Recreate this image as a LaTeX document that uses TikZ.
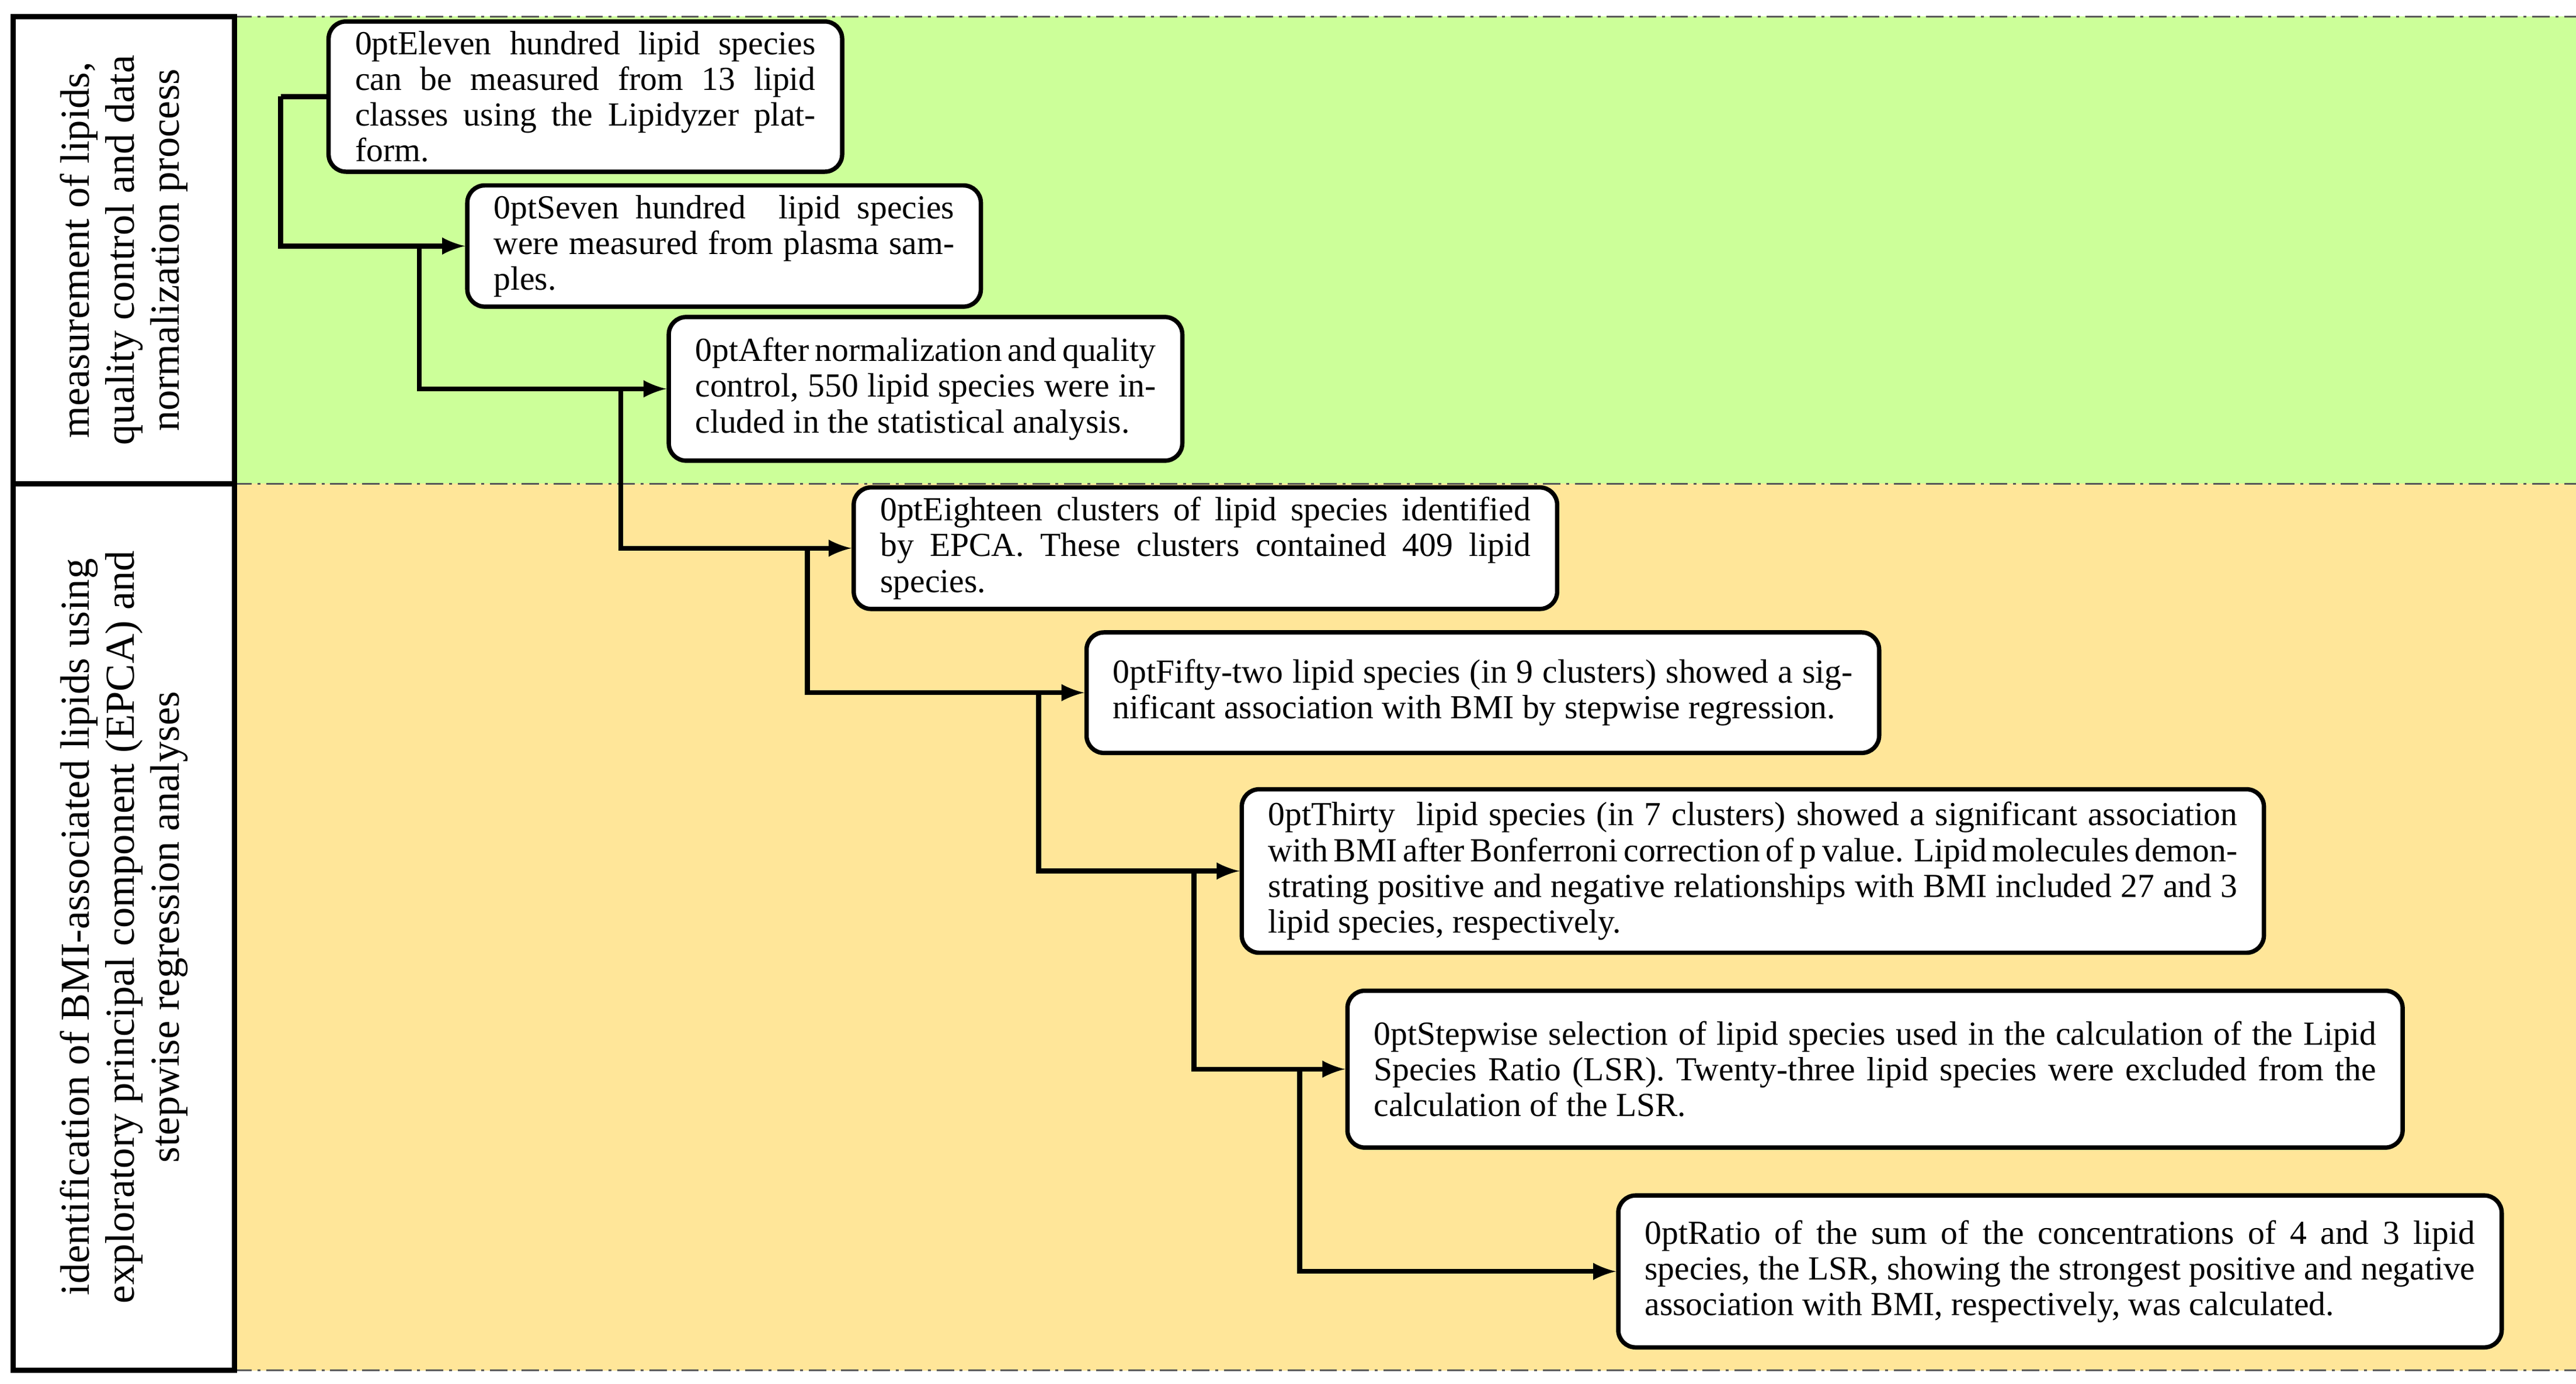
\documentclass[tikz,border=0pt]{standalone}
\usepackage{fontspec}
\setmainfont{Liberation Serif}
\begin{document}
\begin{tikzpicture}[x=0.02cm,y=-0.02cm,
 box/.style={draw=black,line width=1.5pt,rounded corners=6pt,fill=white,align=justify,font=\fontsize{11.6}{12.3}\selectfont\hyphenpenalty=10000\exhyphenpenalty=10000,inner xsep=0pt},
 conn/.style={line width=1.7pt,-latex},
 side/.style={draw=black,line width=1.8pt,fill=white},
 bandline/.style={dash pattern=on 6pt off 2pt on 1pt off 2pt,line width=0.6pt,gray!70!black}]
\useasboundingbox (0,0) rectangle (1560,838);
\fill[fill={rgb,255:red,204;green,255;blue,153}] (142,10) rectangle (1560,293);
\fill[fill={rgb,255:red,255;green,230;blue,153}] (142,293) rectangle (1560,830);
\draw[bandline] (142,10) -- (1560,10);
\draw[bandline] (142,293) -- (1560,293);
\draw[bandline] (142,830) -- (1560,830);
\node[side,minimum width=134*0.02cm,minimum height=283*0.02cm] (s1) at (75,151.5) {};
\node[side,minimum width=134*0.02cm,minimum height=537*0.02cm] (s2) at (75,561.5) {};
\node[rotate=90,align=center,font=\fontsize{14.2}{15.5}\selectfont] (t1) at (75,151.5) {measurement of lipids,\\quality control and data\\normalization process};
\node[rotate=90,align=center,font=\fontsize{14.2}{15.5}\selectfont] (t2) at (75,561.5) {identification of BMI-associated lipids using\\exploratory principal component (EPCA) and\\stepwise regression analyses};
\node[box,minimum width=311*0.02cm,minimum height=89*0.02cm,text width=5.58cm] (b1) at (354.5,58.5) {Eleven hundred lipid species can be measured from 13 lipid classes using the Lipidyzer platform.};
\node[box,minimum width=311*0.02cm,minimum height=66*0.02cm,text width=5.58cm] (b2) at (438.5,149) {Seven hundred\ \ lipid species were measured from plasma samples.};
\node[box,minimum width=311*0.02cm,minimum height=87*0.02cm,text width=5.58cm] (b3) at (560.5,235.5) {After normalization and quality control, 550 lipid species were included in the statistical analysis.};
\node[box,minimum width=426*0.02cm,minimum height=70*0.02cm,text width=7.88cm] (b4) at (730,332) {Eighteen clusters of lipid species identified by EPCA. These clusters contained 409 lipid species.};
\node[box,minimum width=480*0.02cm,minimum height=73*0.02cm,text width=8.96cm] (b5) at (898,419.5) {Fifty-two lipid species (in 9 clusters) showed a significant association with BMI by stepwise regression.};
\node[box,minimum width=619*0.02cm,minimum height=99*0.02cm,text width=11.74cm] (b6) at (1061.5,527.5) {Thirty\ \ lipid species (in 7 clusters) showed a significant association with BMI after Bonferroni correction of p value. Lipid molecules demonstrating positive and negative relationships with BMI included 27 and 3 lipid species, respectively.};
\node[box,minimum width=639*0.02cm,minimum height=95*0.02cm,text width=12.14cm] (b7) at (1135.5,647.5) {Stepwise selection of lipid species used in the calculation of the Lipid Species Ratio (LSR). Twenty-three lipid species were excluded from the calculation of the LSR.};
\node[box,minimum width=535*0.02cm,minimum height=92*0.02cm,text width=10.06cm] (b8) at (1247.5,770) {Ratio of the sum of the concentrations of 4 and 3 lipid species, the LSR, showing the strongest positive and negative association with BMI, respectively, was calculated.};
\coordinate (c1) at (170,58.5);
\coordinate (j2) at (254,149);
\coordinate (j3) at (376,235.5);
\coordinate (j4) at (489,332);
\coordinate (j5) at (629,419.5);
\coordinate (j6) at (723,527.5);
\coordinate (j7) at (787,647.5);
\draw[line width=1.7pt] (b1.west) -- (c1);
\draw[conn] (c1) |- (b2.west);
\draw[conn] (j2) |- (b3.west);
\draw[conn] (j3) |- (b4.west);
\draw[conn] (j4) |- (b5.west);
\draw[conn] (j5) |- (b6.west);
\draw[conn] (j6) |- (b7.west);
\draw[conn] (j7) |- (b8.west);
\end{tikzpicture}
\end{document}
